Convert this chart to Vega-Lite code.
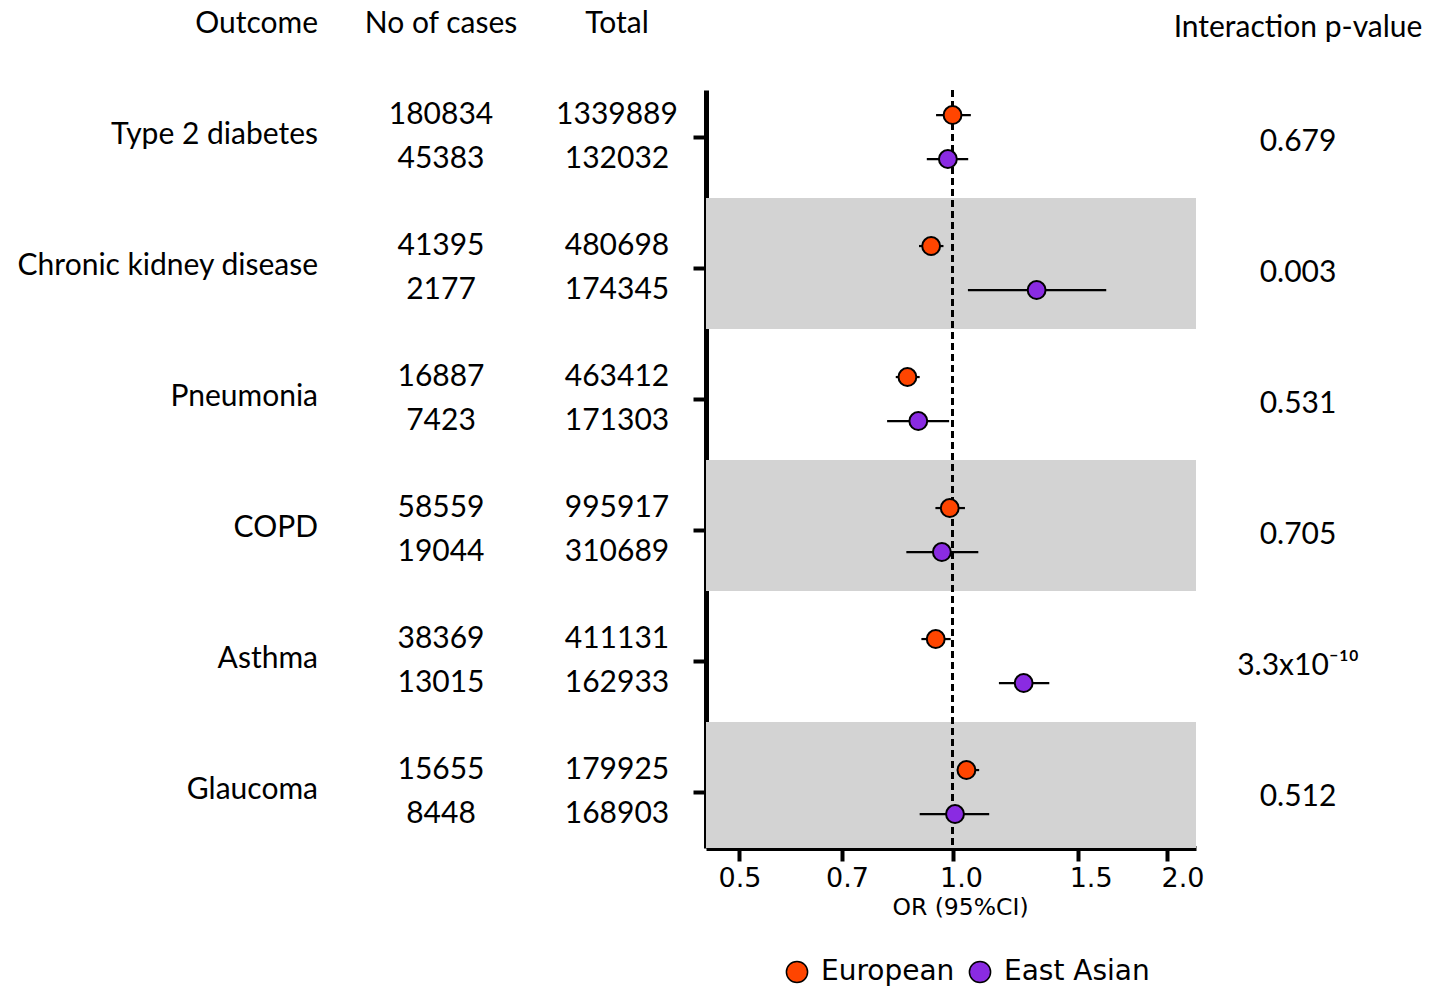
{
  "$schema": "https://vega.github.io/schema/vega-lite/v6.json",
  "background": "white",
  "padding": {"left": 0, "top": 9, "right": 5, "bottom": 5},
  "config": {
    "view": {"stroke": null},
    "axis": {"grid": false},
    "title": {"font": "Lato", "fontSize": 30, "fontWeight": "normal", "color": "black", "frame": "group"}
  },
  "data": {
    "values": [
      {"outcome": "Type 2 diabetes", "population": "European", "cases": 180834, "total": 1339889, "or": 1.0, "lo": 0.948, "hi": 1.061, "p": "0.679"},
      {"outcome": "Type 2 diabetes", "population": "East Asian", "cases": 45383, "total": 132032, "or": 0.985, "lo": 0.92, "hi": 1.052, "p": "0.679"},
      {"outcome": "Chronic kidney disease", "population": "European", "cases": 41395, "total": 480698, "or": 0.933, "lo": 0.897, "hi": 0.971, "p": "0.003"},
      {"outcome": "Chronic kidney disease", "population": "East Asian", "cases": 2177, "total": 174345, "or": 1.313, "lo": 1.051, "hi": 1.645, "p": "0.003"},
      {"outcome": "Pneumonia", "population": "European", "cases": 16887, "total": 463412, "or": 0.864, "lo": 0.832, "hi": 0.899, "p": "0.531"},
      {"outcome": "Pneumonia", "population": "East Asian", "cases": 7423, "total": 171303, "or": 0.895, "lo": 0.809, "hi": 0.989, "p": "0.531"},
      {"outcome": "COPD", "population": "European", "cases": 58559, "total": 995917, "or": 0.991, "lo": 0.946, "hi": 1.041, "p": "0.705"},
      {"outcome": "COPD", "population": "East Asian", "cases": 19044, "total": 310689, "or": 0.966, "lo": 0.861, "hi": 1.087, "p": "0.705"},
      {"outcome": "Asthma", "population": "European", "cases": 38369, "total": 411131, "or": 0.947, "lo": 0.904, "hi": 0.994, "p": "3.3x10⁻¹⁰"},
      {"outcome": "Asthma", "population": "East Asian", "cases": 13015, "total": 162933, "or": 1.259, "lo": 1.162, "hi": 1.368, "p": "3.3x10⁻¹⁰"},
      {"outcome": "Glaucoma", "population": "European", "cases": 15655, "total": 179925, "or": 1.046, "lo": 1.021, "hi": 1.09, "p": "0.512"},
      {"outcome": "Glaucoma", "population": "East Asian", "cases": 8448, "total": 168903, "or": 1.008, "lo": 0.899, "hi": 1.126, "p": "0.512"}
    ]
  },
  "hconcat": [
    {
      "width": 318, "height": 758,
      "title": {"text": "Outcome", "anchor": "end", "offset": 51},
      "transform": [{"filter": "datum.population === 'European'"}],
      "mark": {"type": "text", "align": "right", "x": "width", "font": "Lato", "fontSize": 30, "color": "black", "dy": -2},
      "encoding": {
        "y": {"field": "outcome", "type": "nominal", "axis": null,
              "scale": {"type": "band", "domain": ["Type 2 diabetes", "Chronic kidney disease", "Pneumonia", "COPD", "Asthma", "Glaucoma"], "paddingInner": 0.314, "paddingOuter": 0.05, "align": 0.16}},
        "text": {"field": "outcome", "type": "nominal"}
      }
    },
    {
      "width": 174, "height": 758,
      "title": {"text": "No of cases", "anchor": "middle", "offset": 51},
      "mark": {"type": "text", "font": "Lato", "fontSize": 30, "color": "black"},
      "encoding": {
        "y": {"field": "outcome", "type": "nominal", "axis": null,
              "scale": {"type": "band", "domain": ["Type 2 diabetes", "Chronic kidney disease", "Pneumonia", "COPD", "Asthma", "Glaucoma"], "paddingInner": 0.314, "paddingOuter": 0.05, "align": 0.16}},
        "yOffset": {"field": "population", "type": "nominal", "scale": {"type": "band", "domain": ["European", "East Asian"], "paddingInner": 0, "paddingOuter": 0.0215}},
        "text": {"field": "cases", "type": "quantitative", "format": "d"}
      }
    },
    {
      "width": 106, "height": 758,
      "title": {"text": "Total", "anchor": "middle", "offset": 51},
      "mark": {"type": "text", "font": "Lato", "fontSize": 30, "color": "black"},
      "encoding": {
        "y": {"field": "outcome", "type": "nominal", "axis": null,
              "scale": {"type": "band", "domain": ["Type 2 diabetes", "Chronic kidney disease", "Pneumonia", "COPD", "Asthma", "Glaucoma"], "paddingInner": 0.314, "paddingOuter": 0.05, "align": 0.16}},
        "yOffset": {"field": "population", "type": "nominal", "scale": {"type": "band", "domain": ["European", "East Asian"], "paddingInner": 0, "paddingOuter": 0.0215}},
        "text": {"field": "total", "type": "quantitative", "format": "d"}
      }
    },
    {
      "width": 490, "height": 758,
      "layer": [
        {
          "transform": [{"filter": {"field": "outcome", "oneOf": ["Chronic kidney disease", "COPD", "Glaucoma"]}}, {"filter": "datum.population === 'European'"}],
          "mark": {"type": "bar", "color": "#d3d3d3", "height": {"band": 1.457}, "yOffset": -4.5, "clip": true},
          "encoding": {
            "y": {"field": "outcome", "type": "nominal",
                  "scale": {"type": "band", "domain": ["Type 2 diabetes", "Chronic kidney disease", "Pneumonia", "COPD", "Asthma", "Glaucoma"], "paddingInner": 0.314, "paddingOuter": 0.05, "align": 0.16},
                  "axis": {"labels": false, "title": null, "domainColor": "black", "domainWidth": 5, "tickColor": "black", "tickWidth": 4, "tickSize": 13, "grid": false}},
            "x": {"datum": 0.4, "type": "quantitative",
                  "scale": {"type": "log", "domain": [0.45, 2.2], "nice": false, "zero": false},
                  "axis": {"values": [0.5, 0.7, 1, 1.5, 2], "format": ".1f", "title": "OR (95%CI)", "grid": false,
                           "domainColor": "black", "domainWidth": 5, "tickColor": "black", "tickWidth": 4, "tickSize": 13,
                           "labelFont": "DejaVu Sans", "labelFontSize": 27, "labelColor": "black", "labelPadding": 4, "labelFlush": false,
                           "labelOffset": {"expr": "1 + 7.5 * log(datum.value / 0.5) / log(2)"},
                           "titleFont": "DejaVu Sans", "titleFontSize": 23.5, "titleFontWeight": "normal", "titleColor": "black", "titlePadding": 4, "titleX": 254}},
            "x2": {"datum": 3}
          }
        },
        {
          "mark": {"type": "rule", "strokeDash": [7, 4], "strokeWidth": 2, "color": "black"},
          "encoding": {"x": {"datum": 1, "type": "quantitative"}}
        },
        {
          "mark": {"type": "rule", "strokeWidth": 2.2, "color": "black"},
          "encoding": {
            "y": {"field": "outcome", "type": "nominal"},
            "yOffset": {"field": "population", "type": "nominal", "scale": {"type": "band", "domain": ["European", "East Asian"], "paddingInner": 0, "paddingOuter": 0.0215}},
            "x": {"field": "lo", "type": "quantitative"},
            "x2": {"field": "hi"}
          }
        },
        {
          "mark": {"type": "point", "shape": "circle", "filled": true, "size": 320, "stroke": "black", "strokeWidth": 2, "opacity": 1},
          "encoding": {
            "y": {"field": "outcome", "type": "nominal"},
            "yOffset": {"field": "population", "type": "nominal"},
            "x": {"field": "or", "type": "quantitative"},
            "color": {"field": "population", "type": "nominal",
                      "scale": {"domain": ["European", "East Asian"], "range": ["#FF4500", "#8A2BE2"]},
                      "legend": {"orient": "none", "legendX": 77, "legendY": 868, "title": null, "direction": "horizontal",
                                 "labelFont": "DejaVu Sans", "labelFontSize": 28, "labelColor": "black", "labelOffset": 10,
                                 "columnPadding": 11, "symbolType": "circle", "symbolSize": 450,
                                 "symbolStrokeColor": "black", "symbolStrokeWidth": 1.5, "symbolOpacity": 1}}
          }
        }
      ]
    },
    {
      "width": 132, "height": 758,
      "title": {"text": "Interaction p-value", "anchor": "middle", "offset": 47},
      "transform": [{"filter": "datum.population === 'European'"}],
      "mark": {"type": "text", "font": "Lato", "fontSize": 30, "color": "black", "dy": 5},
      "encoding": {
        "y": {"field": "outcome", "type": "nominal", "axis": null,
              "scale": {"type": "band", "domain": ["Type 2 diabetes", "Chronic kidney disease", "Pneumonia", "COPD", "Asthma", "Glaucoma"], "paddingInner": 0.314, "paddingOuter": 0.05, "align": 0.16}},
        "text": {"field": "p", "type": "nominal"}
      }
    }
  ],
  "spacing": 36,
  "bounds": "flush",
  "resolve": {"scale": {"y": "independent", "yOffset": "independent", "x": "independent", "color": "independent"}}
}
